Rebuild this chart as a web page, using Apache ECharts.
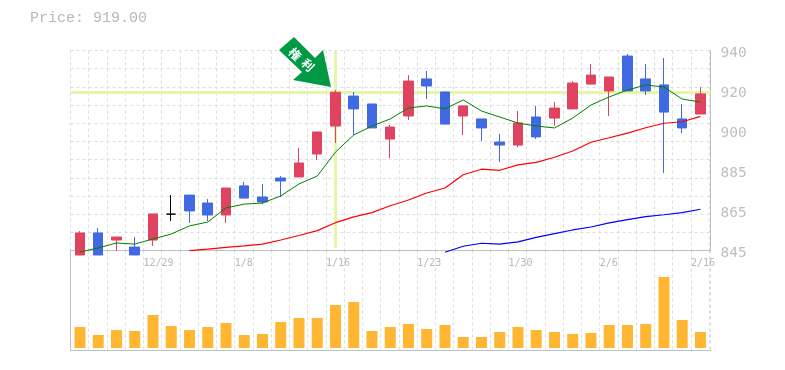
<!DOCTYPE html>
<html>
<head>
<meta charset="utf-8">
<style>
    html, body { margin: 0; padding: 0; background: #fff; }
    #main { width: 785px; height: 370px; }
</style>
<script src="https://cdn.jsdelivr.net/npm/echarts@6/dist/echarts.min.js"></script>
</head>
<body>
<div id="main"></div>
<script>
    var priceText = 'Price: 919.00'
    var currentPrice = 919
    var markedIndex = 14

    // candles, one entry per trading day
    var opens = [842.9, 853.2, 849.9, 846.6, 849.9, 862, 870.9, 867.2, 861.6, 875.2, 870, 878.9, 879.4, 890.1, 903.2, 917.2, 913.5, 897.1, 907.9, 925.2, 919.1, 907.9, 906.5, 895.7, 894.3, 907.4, 906.9, 911.2, 922.8, 919.6, 935.9, 925.2, 922.4, 906.5, 908.8]
    var closes = [853.2, 842.9, 851.3, 842.9, 862.1, 862, 863.5, 861.6, 874.2, 869.5, 867.7, 877.5, 885.9, 900.4, 919, 911.2, 902.3, 902.7, 924.2, 921.9, 904.1, 912.6, 902.3, 894.3, 904.6, 898.1, 911.6, 923.3, 927, 926.1, 919.6, 919.6, 909.7, 902.3, 918.2]
    var lows = [842.9, 842.9, 844.8, 842.9, 847.1, 858.8, 857.9, 858.8, 857.9, 869.5, 866.7, 870, 879.4, 887.3, 895.3, 899, 902.3, 888.2, 906, 915.8, 904.1, 899, 896.2, 886.4, 893.4, 897.1, 903.2, 911.2, 922.8, 907.9, 919.6, 917.7, 881.2, 899.9, 908.8]
    var highs = [854.1, 855.5, 851.3, 851.3, 862.1, 870.9, 870.9, 869.1, 874.2, 877, 876.1, 879.8, 892.9, 900.4, 920, 919.1, 913.5, 903.7, 927, 928.9, 919.1, 912.6, 906.5, 899.5, 910.2, 912.6, 914.4, 924.2, 932.2, 926.1, 936.9, 932.2, 935, 913.5, 921.4]

    var maShort = [844.3, 846.2, 848.5, 848, 850.4, 852.7, 856.5, 858.3, 864.9, 866.7, 867.2, 870.5, 876.1, 879.8, 891, 899, 903.2, 906.5, 911.6, 912.6, 911.2, 915.4, 910.2, 907.4, 904.6, 903.2, 902.3, 906.9, 913, 916.8, 920, 922.4, 921.4, 915.8, 914.4]
    var maMiddle = [null, null, null, null, null, null, 844.9, 845.6, 846.5, 847.2, 848, 849.9, 852, 854.3, 858, 860.7, 862.7, 865.9, 868.6, 871.9, 874.2, 880.4, 883, 882.5, 885, 886.2, 888.6, 891.5, 895.6, 897.7, 899.9, 902.4, 904.5, 905.2, 907.7]
    var maLong = [null, null, null, null, null, null, null, null, null, null, null, null, null, null, null, null, null, null, null, null, 844.2, 847, 848.4, 848, 849, 851.1, 852.9, 854.6, 856, 857.9, 859.4, 860.8, 861.7, 862.7, 864.3]

    var volumes = [21, 13, 18, 17, 33, 22, 18, 21, 25, 13, 14, 26, 30, 30, 43, 46, 17, 21, 24, 19, 23, 11, 11, 16, 21, 18, 16, 14, 15, 23, 23, 24, 71, 28, 16]

    var dateTicks = [4, 9, 14, 19, 24, 29, 34]
    var dateLabels = ['12/29', '1/8', '1/16', '1/23', '1/30', '2/6', '2/16']
    var priceLabels = ['845', '865', '885', '900', '920', '940']

    var GRAY = '#c0c0c0'
    var GRID_COLOR = '#dddddd'
    var LABEL_FONT = 'DejaVu Sans Mono'
    var DAY_SHIFT = 0.52 // candles sit a little right of the middle of their cell

    function dayX(i) {
        return i + DAY_SHIFT
    }

    var candleData = opens.map(function (o, i) {
        return [dayX(i), o, closes[i], lows[i], highs[i]]
    })

    function lineData(values) {
        var out = []
        values.forEach(function (v, i) {
            if (v !== null) out.push([dayX(i), v])
        })
        return out
    }

    function dayAxis(gridIndex, showLabel) {
        return {
            type: 'value',
            gridIndex: gridIndex,
            min: 0,
            max: 35.07,
            interval: 1,
            axisLine: { onZero: false, lineStyle: { color: GRAY, width: 1 } },
            axisTick: { show: false },
            splitLine: { show: true, lineStyle: { color: GRID_COLOR, type: [3, 3] } },
            axisLabel: {
                show: showLabel,
                align: 'left',
                margin: 8,
                color: '#b8b8b8',
                fontFamily: LABEL_FONT,
                fontSize: 10,
                showMinLabel: true,
                showMaxLabel: false,
                formatter: function (v) {
                    var at = dateTicks.indexOf(v)
                    return at >= 0 ? dateLabels[at] : ''
                }
            }
        }
    }

    function maLine(values, color, width) {
        return {
            type: 'line',
            xAxisIndex: 0,
            yAxisIndex: 0,
            data: lineData(values),
            symbol: 'none',
            clip: false,
            z: 4,
            lineStyle: { color: color, width: width }
        }
    }

    var myChart = echarts.init(document.getElementById('main'), null, { renderer: 'canvas' })
    myChart.setOption({
        animation: false,
        backgroundColor: '#fff',
        title: {
            text: priceText,
            left: 30,
            top: 11,
            padding: 0,
            textStyle: { color: '#b8b8b8', fontFamily: 'Liberation Mono', fontSize: 15, fontWeight: 'normal' }
        },
        grid: [
            { left: 70.5, top: 50.5, width: 640, height: 200 },
            { left: 70.5, top: 250.5, width: 640, height: 99.5 },
            // the price labels hang a little below the rows they name
            { left: 70.5, top: 53, width: 640, height: 200 }
        ],
        xAxis: [
            dayAxis(0, true),
            dayAxis(1, false),
            { type: 'value', gridIndex: 2, show: false, min: 0, max: 1 }
        ],
        yAxis: [
            // price scale, not drawn
            { type: 'value', gridIndex: 0, min: 845, max: 938.5, show: false },
            // dotted rows of the price area, right edge line
            {
                type: 'value', gridIndex: 0, position: 'right', min: 0, max: 11, interval: 1,
                axisLine: { show: true, lineStyle: { color: GRAY, width: 1 } },
                axisTick: { show: false }, axisLabel: { show: false },
                splitLine: { show: true, lineStyle: { color: GRID_COLOR, type: [3, 3] } }
            },
            // right side labels
            {
                type: 'value', gridIndex: 2, position: 'right', min: 0, max: 5, interval: 1,
                axisLine: { show: false },
                axisTick: { show: false },
                splitLine: { show: false },
                axisLabel: {
                    margin: 10,
                    color: GRAY,
                    fontFamily: LABEL_FONT,
                    fontSize: 14.5,
                    formatter: function (v) {
                        return priceLabels[v]
                    }
                }
            },
            // volume, one unit is one pixel, zero lifted off the base line
            {
                type: 'value', gridIndex: 1, position: 'right', min: -2, max: 97.5,
                axisLine: { show: true, lineStyle: { color: GRAY, width: 1 } },
                axisTick: { show: false }, axisLabel: { show: false }, splitLine: { show: false }
            }
        ],
        series: [
            {
                type: 'line',
                xAxisIndex: 0,
                yAxisIndex: 0,
                data: [],
                z: 1,
                silent: true,
                markLine: {
                    silent: true,
                    z: 1,
                    symbol: 'none',
                    label: { show: false },
                    animation: false,
                    lineStyle: { color: '#e6f5ab', width: 3, type: 'solid' },
                    data: [
                        { yAxis: currentPrice },
                        [
                            { coord: [dayX(markedIndex), 846] },
                            { coord: [dayX(markedIndex), 938.3] }
                        ]
                    ]
                }
            },
            maLine(maLong, '#0000ff', 1.2),
            maLine(maMiddle, '#ff0000', 1.2),
            maLine(maShort, '#008000', 1),
            {
                type: 'candlestick',
                xAxisIndex: 0,
                yAxisIndex: 0,
                data: candleData,
                encode: { x: 0, y: [1, 2, 3, 4] },
                barWidth: 10,
                clip: false,
                z: 3,
                itemStyle: {
                    color: '#e04360',
                    color0: '#4169e1',
                    borderColor: '#e04360',
                    borderColor0: '#4169e1',
                    borderColorDoji: '#000',
                    borderWidth: 1
                }
            },
            {
                type: 'bar',
                xAxisIndex: 1,
                yAxisIndex: 3,
                data: volumes.map(function (v, i) { return [dayX(i), v] }),
                barWidth: 11,
                itemStyle: { color: '#ffb733' }
            }
        ],
        graphic: [
            {
                // arrow over the marked day
                type: 'polygon',
                z: 10,
                shape: { points: [[279, 50], [294, 37], [315, 58], [323, 50], [331, 87], [293, 80], [302, 72]] },
                style: { fill: '#009944' }
            },
            {
                type: 'text',
                z: 11,
                x: 295,
                y: 54,
                rotation: -Math.PI / 4,
                style: { text: '権', fill: '#fff', fontFamily: 'Noto Sans CJK JP', fontSize: 12, fontWeight: 'bold', align: 'center', verticalAlign: 'middle' }
            },
            {
                type: 'text',
                z: 11,
                x: 308,
                y: 65,
                rotation: -Math.PI / 4,
                style: { text: '利', fill: '#fff', fontFamily: 'Noto Sans CJK JP', fontSize: 12, fontWeight: 'bold', align: 'center', verticalAlign: 'middle' }
            }
        ]
    })
    window.addEventListener('resize', function () {
        myChart.resize()
    })
</script>
</body>
</html>
